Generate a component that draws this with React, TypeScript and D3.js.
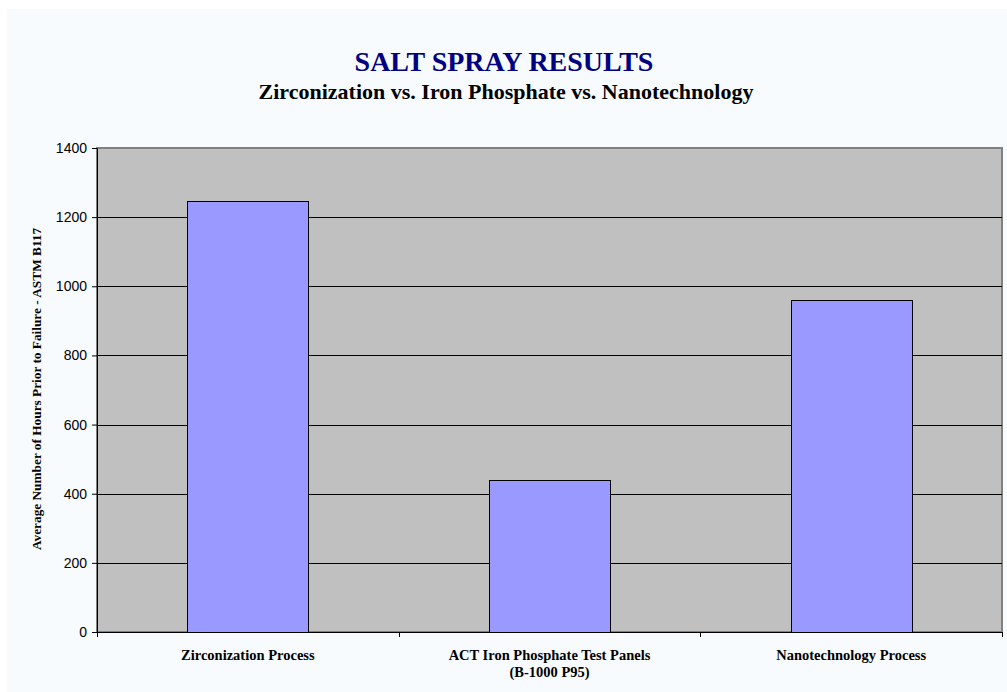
import React, { useEffect, useRef } from "react";
import * as d3 from "d3";

const categories = [
  ["Zirconization Process"],
  ["ACT Iron Phosphate Test Panels", "(B-1000 P95)"],
  ["Nanotechnology Process"],
];
const hours = [1248, 440, 960];
const yTicks = [0, 200, 400, 600, 800, 1000, 1200, 1400];

const serif = "'Times New Roman', 'Liberation Serif', serif";
const sans = "Arial, 'Liberation Sans', sans-serif";

const App = () => {
  const ref = useRef<SVGSVGElement>(null);

  useEffect(() => {
    const svg = d3.select(ref.current);
    svg.selectAll("*").remove();

    const width = 1007;
    const height = 692;
    const plot = { left: 97, right: 1002, top: 148, bottom: 632 };

    // page background panel
    svg
      .append("rect")
      .attr("x", 7)
      .attr("y", 9)
      .attr("width", width - 7)
      .attr("height", height - 9)
      .attr("fill", "#F7FBFE");

    const x = d3
      .scaleBand()
      .domain(categories.map((d, i) => String(i)))
      .range([plot.left, plot.right]);
    const y = d3.scaleLinear().domain([0, 1400]).range([plot.bottom, plot.top]);

    // plot area
    svg
      .append("rect")
      .attr("x", plot.left)
      .attr("y", plot.top)
      .attr("width", plot.right - plot.left)
      .attr("height", plot.bottom - plot.top)
      .attr("fill", "#C0C0C0")
      .attr("stroke", "#808080")
      .attr("stroke-width", 2);

    // gridlines
    svg
      .append("g")
      .selectAll("line")
      .data(yTicks.filter((t) => t > 0 && t < 1400))
      .enter()
      .append("line")
      .attr("x1", plot.left)
      .attr("x2", plot.right)
      .attr("y1", (d) => Math.round(y(d)) + 0.5)
      .attr("y2", (d) => Math.round(y(d)) + 0.5)
      .attr("stroke", "#000")
      .attr("stroke-width", 1);

    // bars
    const bw = 121;
    svg
      .append("g")
      .selectAll("rect")
      .data(hours)
      .enter()
      .append("rect")
      .attr("x", (d, i) => Math.round(x(String(i))! + x.bandwidth() / 2 - bw / 2) + 0.5)
      .attr("y", (d) => Math.round(y(d)) + 0.5)
      .attr("width", bw)
      .attr("height", (d) => plot.bottom - Math.round(y(d)))
      .attr("fill", "#9999FF")
      .attr("stroke", "#000")
      .attr("stroke-width", 1);

    // y axis
    const yAxis = svg
      .append("g")
      .attr("transform", `translate(${plot.left},0)`)
      .call(
        d3
          .axisLeft(y)
          .tickValues(yTicks)
          .tickFormat(d3.format("d"))
          .tickSize(5)
          .tickPadding(5)
      );
    yAxis.select(".domain").attr("stroke", "#000");
    yAxis
      .selectAll("text")
      .attr("font-family", sans)
      .attr("font-size", 14)
      .attr("fill", "#000");

    // x axis
    const xAxis = svg.append("g").attr("transform", `translate(0,${plot.bottom})`);
    xAxis
      .append("line")
      .attr("x1", plot.left)
      .attr("x2", plot.right)
      .attr("y1", 0.5)
      .attr("y2", 0.5)
      .attr("stroke", "#000");
    const bounds = [plot.left, ...categories.map((d, i) => x(String(i))! + x.bandwidth())];
    xAxis
      .selectAll(".tk")
      .data(bounds)
      .enter()
      .append("line")
      .attr("x1", (d) => Math.round(d) + 0.5)
      .attr("x2", (d) => Math.round(d) + 0.5)
      .attr("y1", 0)
      .attr("y2", 5)
      .attr("stroke", "#000");

    const labels = xAxis
      .selectAll(".lbl")
      .data(categories)
      .enter()
      .append("text")
      .attr("text-anchor", "middle")
      .attr("font-family", serif)
      .attr("font-weight", "bold")
      .attr("font-size", 14.5)
      .attr("fill", "#000");
    labels
      .selectAll("tspan")
      .data((d, i) => d.map((s) => ({ s, i })))
      .enter()
      .append("tspan")
      .attr("x", (d) => x(String(d.i))! + x.bandwidth() / 2)
      .attr("y", (d, j) => 28 + j * 17)
      .text((d) => d.s);

    // y axis title
    svg
      .append("text")
      .attr("transform", `translate(41,389) rotate(-90)`)
      .attr("text-anchor", "middle")
      .attr("font-family", serif)
      .attr("font-weight", "bold")
      .attr("font-size", 13.3)
      .text("Average Number of Hours Prior to Failure - ASTM B117");

    // titles
    svg
      .append("text")
      .attr("x", 504)
      .attr("y", 71)
      .attr("text-anchor", "middle")
      .attr("font-family", serif)
      .attr("font-weight", "bold")
      .attr("font-size", 28)
      .attr("fill", "#000080")
      .text("SALT SPRAY RESULTS");
    svg
      .append("text")
      .attr("x", 506)
      .attr("y", 99)
      .attr("text-anchor", "middle")
      .attr("font-family", serif)
      .attr("font-weight", "bold")
      .attr("font-size", 22)
      .attr("fill", "#000")
      .text("Zirconization vs. Iron Phosphate vs. Nanotechnology");
  }, []);

  return (
    <svg
      ref={ref}
      width={1007}
      height={692}
      style={{ position: "absolute", left: 0, top: 0, display: "block" }}
    />
  );
};

export default App;
